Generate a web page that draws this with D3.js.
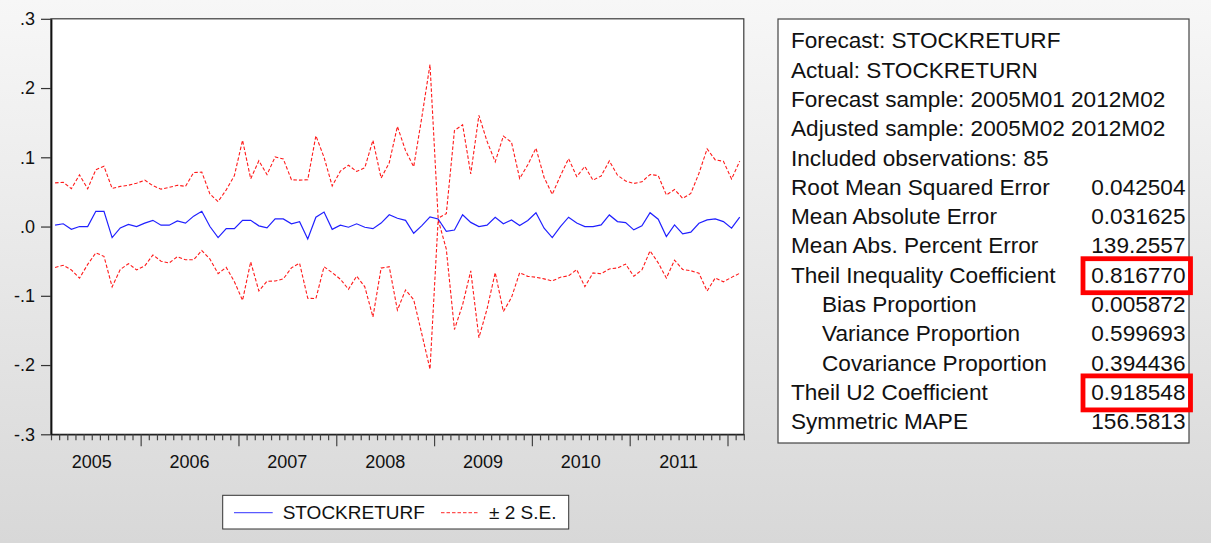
<!DOCTYPE html>
<html lang="en">
<head>
<meta charset="UTF-8">
<title>Forecast STOCKRETURF</title>
<script src="https://cdn.jsdelivr.net/npm/d3@7"></script>
<style>
    html, body { margin: 0; padding: 0; }
    body {
        width: 1211px;
        height: 543px;
        overflow: hidden;
        background: linear-gradient(#f7f7f7, #d8d8d8);
        font-family: "Liberation Sans", Arial, sans-serif;
    }
    svg text { fill: #111; }
</style>
</head>
<body>
<div id="chart"></div>
<script>
// forecast of STOCKRETURN, 2005M02 .. 2012M02 (85 obs), and its standard error
const startYear = 2005;
const startMonth = 2;
const forecast = [
    0.002, 0.004, -0.004, 0.000, 0.000, 0.022, 0.022, -0.016, -0.002, 0.003,
    0.000, 0.005, 0.009, 0.002, 0.002, 0.008, 0.005, 0.015, 0.022, 0.000,
    -0.016, -0.003, -0.003, 0.009, 0.009, 0.001, -0.002, 0.011, 0.011, 0.004,
    0.007, -0.018, 0.0135, 0.021, -0.004, 0.002, -0.001, 0.004, -0.001, -0.003,
    0.005, 0.017, 0.012, 0.009, -0.0096, 0.0014, 0.014, 0.011, -0.007, -0.005,
    0.017, 0.006, 0.000, 0.002, 0.0135, 0.004, 0.0096, 0.0014, 0.0087, 0.020,
    -0.0024, -0.016, 0.000, 0.0135, 0.005, 0.000, 0.000, 0.0024, 0.0168, 0.0072,
    0.0058, -0.0048, 0.001, 0.020, 0.0106, -0.0144, 0.0024, -0.0106, -0.008, 0.0048,
    0.0096, 0.011, 0.0072, -0.0024, 0.0135
];
const se = [
    0.0305, 0.0300, 0.0293, 0.0373, 0.0273, 0.0300, 0.0325, 0.0355, 0.0300, 0.0283,
    0.0313, 0.0310, 0.0250, 0.0260, 0.0273, 0.0258, 0.0265, 0.0315, 0.0283, 0.0235,
    0.0260, 0.0280, 0.0383, 0.0578, 0.0300, 0.0470, 0.0385, 0.0448, 0.0433, 0.0318,
    0.0300, 0.0428, 0.0588, 0.0395, 0.0313, 0.0390, 0.0448, 0.0378, 0.0430, 0.0638,
    0.0325, 0.0375, 0.0663, 0.0503, 0.0480, 0.0783, 0.1100, 0.0005, 0.0128, 0.0718,
    0.0650, 0.0350, 0.0803, 0.0605, 0.0400, 0.0633, 0.0560, 0.0340, 0.0403, 0.0466,
    0.0366, 0.0313, 0.0366, 0.0423, 0.0336, 0.0434, 0.0335, 0.0353, 0.0390, 0.0335,
    0.0300, 0.0335, 0.0318, 0.0276, 0.0315, 0.0300, 0.0255, 0.0257, 0.0279, 0.0361,
    0.0513, 0.0426, 0.0435, 0.0355, 0.0405
];

const yTicks = [-0.3, -0.2, -0.1, 0, 0.1, 0.2, 0.3];
const yTickLabels = ["-.3", "-.2", "-.1", ".0", ".1", ".2", ".3"];
const years = [2005, 2006, 2007, 2008, 2009, 2010, 2011];

const legendLabels = ["STOCKRETURF", "\u00b1 2 S.E."];

const statLabels = [
    "Forecast: STOCKRETURF",
    "Actual: STOCKRETURN",
    "Forecast sample: 2005M01 2012M02",
    "Adjusted sample: 2005M02 2012M02",
    "Included observations: 85",
    "Root Mean Squared Error",
    "Mean Absolute Error",
    "Mean Abs. Percent Error",
    "Theil Inequality Coefficient",
    "Bias Proportion",
    "Variance Proportion",
    "Covariance Proportion",
    "Theil U2 Coefficient",
    "Symmetric MAPE"
];
const statValues = ["", "", "", "", "", "0.042504", "0.031625", "139.2557",
    "0.816770", "0.005872", "0.599693", "0.394436", "0.918548", "156.5813"];
const indentedRows = [9, 10, 11];
const highlightedRows = [8, 12];

const W = 1211, H = 543;
const plot = { left: 51, right: 743.8, top: 18.8, bottom: 434.3 };

const svg = d3.select("#chart").append("svg")
    .attr("width", W)
    .attr("height", H);

// one slot per month, point drawn in the middle of its slot
const nSlots = forecast.length;
const x = d3.scaleLinear().domain([0, nSlots]).range([plot.left, plot.right]);
const y = d3.scaleLinear().domain([-0.3, 0.3]).range([plot.bottom, plot.top]);

svg.append("rect")
    .attr("x", plot.left).attr("y", plot.top)
    .attr("width", plot.right - plot.left).attr("height", plot.bottom - plot.top)
    .attr("fill", "#fff")
    .attr("stroke", "#3a3a3a").attr("stroke-width", 1.2);

const isJanuary = k => (startMonth - 1 + k) % 12 === 0;

// x axis: monthly ticks, longer at January
const xAxis = svg.append("g")
    .attr("transform", `translate(0,${plot.bottom})`)
    .call(d3.axisBottom(x).tickValues(d3.range(0, nSlots + 1)).tickSize(6).tickFormat("").tickSizeOuter(0));
xAxis.select(".domain").attr("stroke", "#222").attr("stroke-width", 1.5);
xAxis.selectAll(".tick line")
    .attr("stroke", "#444")
    .attr("stroke-width", 1.2)
    .attr("y2", d => isJanuary(d) ? 12 : 6);
xAxis.selectAll("text").remove();

svg.append("g").selectAll("text")
    .data(years)
    .join("text")
    .attr("x", d => x((d - startYear) * 12 - (startMonth - 1) + 6))
    .attr("y", 467.5)
    .attr("text-anchor", "middle")
    .attr("font-size", 18)
    .text(d => d);

// y axis
const yAxis = svg.append("g")
    .attr("transform", `translate(${plot.left},0)`)
    .call(d3.axisLeft(y).tickValues(yTicks).tickSize(10).tickPadding(6).tickSizeOuter(0)
        .tickFormat((d, i) => yTickLabels[i]));
yAxis.select(".domain").attr("stroke", "#111").attr("stroke-width", 1.8);
yAxis.selectAll(".tick line").attr("stroke", "#333").attr("stroke-width", 1.2);
yAxis.selectAll(".tick text")
    .attr("font-size", 18)
    .attr("font-family", "'Liberation Sans', Arial, sans-serif")
    .attr("fill", "#111");

// series
const px = (d, i) => x(i + 0.5);
const line = d3.line().x(px).y(d => y(d));
const upper = forecast.map((f, i) => f + 2 * se[i]);
const lower = forecast.map((f, i) => f - 2 * se[i]);

const g = svg.append("g");
[upper, lower].forEach(band => {
    g.append("path")
        .datum(band)
        .attr("d", line)
        .attr("fill", "none")
        .attr("stroke", "#ff1a1a")
        .attr("stroke-width", 1.1)
        .attr("stroke-dasharray", "3.5,2");
});
g.append("path")
    .datum(forecast)
    .attr("d", line)
    .attr("fill", "none")
    .attr("stroke", "#2020ff")
    .attr("stroke-width", 1.2);

// legend
const legend = svg.append("g");
legend.append("rect")
    .attr("x", 222.7).attr("y", 495.3)
    .attr("width", 346).attr("height", 33.7)
    .attr("fill", "#fff").attr("stroke", "#333").attr("stroke-width", 1);
legend.append("line")
    .attr("x1", 234).attr("x2", 272.7).attr("y1", 512.7).attr("y2", 512.7)
    .attr("stroke", "#5a5aff").attr("stroke-width", 1.2);
legend.append("text")
    .attr("x", 282.7).attr("y", 519.3)
    .attr("font-size", 19)
    .text(legendLabels[0]);
legend.append("line")
    .attr("x1", 441).attr("x2", 479).attr("y1", 512.7).attr("y2", 512.7)
    .attr("stroke", "#ff5050").attr("stroke-width", 1.2)
    .attr("stroke-dasharray", "3.5,2");
legend.append("text")
    .attr("x", 489).attr("y", 519.3)
    .attr("font-size", 19)
    .text(legendLabels[1]);

// statistics table
const box = { x: 778, y: 19, w: 411, h: 424 };
const rowY = k => 48.3 + 29.3 * k;
const stats = svg.append("g");
stats.append("rect")
    .attr("x", box.x).attr("y", box.y)
    .attr("width", box.w).attr("height", box.h)
    .attr("fill", "#fff").attr("stroke", "#444").attr("stroke-width", 1.2);
stats.selectAll("text.lab")
    .data(statLabels)
    .join("text")
    .attr("class", "lab")
    .attr("x", (d, i) => indentedRows.includes(i) ? 822 : 791)
    .attr("y", (d, i) => rowY(i))
    .attr("font-size", 22.6)
    .text(d => d);
stats.selectAll("text.val")
    .data(statValues)
    .join("text")
    .attr("class", "val")
    .attr("x", 1185.5)
    .attr("y", (d, i) => rowY(i))
    .attr("text-anchor", "end")
    .attr("font-size", 22.6)
    .text(d => d);
stats.selectAll("rect.mark")
    .data(highlightedRows)
    .join("rect")
    .attr("class", "mark")
    .attr("x", 1083).attr("y", k => rowY(k) - 24)
    .attr("width", 107.5).attr("height", 34)
    .attr("fill", "none")
    .attr("stroke", "#ff0000").attr("stroke-width", 4.8);
</script>
</body>
</html>
